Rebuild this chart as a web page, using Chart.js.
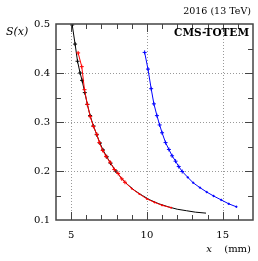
<!DOCTYPE html>
<html>
<head>
<meta charset="utf-8">
<script src="https://cdn.jsdelivr.net/npm/chart.js@4"></script>
<style>
  html, body { margin: 0; padding: 0; background: #fff; }
  #wrap { width: 258px; height: 261px; }
</style>
</head>
<body>
<div id="wrap"><canvas id="chart" width="258" height="261"></canvas></div>
<script>
// values
const blackX = [5.07, 5.26, 5.42, 5.59, 5.72, 5.90, 6.07, 6.25, 6.47, 6.69, 6.90, 7.10, 7.35, 7.60, 7.95, 8.30, 8.70, 9.2, 9.7, 10.2, 10.8, 11.4, 12.0, 12.6, 13.2, 13.9];
const blackY = [0.498, 0.459, 0.424, 0.400, 0.385, 0.360, 0.336, 0.313, 0.292, 0.274, 0.257, 0.243, 0.229, 0.216, 0.200, 0.186, 0.173, 0.160, 0.150, 0.141, 0.133, 0.127, 0.122, 0.119, 0.116, 0.114];

const redX = [5.46, 5.70, 5.88, 6.07, 6.26, 6.47, 6.69, 6.86, 7.08, 7.30, 7.57, 7.85, 8.10, 8.34, 8.55, 9.0, 9.5, 10.0, 10.5, 11.0, 11.6];
const redY = [0.441, 0.413, 0.366, 0.336, 0.311, 0.291, 0.275, 0.258, 0.242, 0.230, 0.218, 0.203, 0.195, 0.184, 0.177, 0.164, 0.153, 0.143, 0.136, 0.130, 0.125];

const blueX = [9.85, 10.07, 10.28, 10.46, 10.66, 10.84, 11.0, 11.23, 11.45, 11.66, 11.89, 12.1, 12.33, 12.7, 13.05, 13.5, 13.95, 14.4, 14.9, 15.4, 15.9];
const blueY = [0.442, 0.408, 0.368, 0.337, 0.313, 0.294, 0.278, 0.258, 0.244, 0.231, 0.220, 0.209, 0.199, 0.187, 0.176, 0.166, 0.157, 0.149, 0.141, 0.133, 0.127];

const xTicks = [5, 10, 15];
const yTicks = [0.1, 0.2, 0.3, 0.4, 0.5];

const pts = (xs, ys) => xs.map((x, i) => ({ x: x, y: ys[i] }));
const serif = 'DejaVu Serif';

// frame, dotted grid, inward ticks and the labels
const framePlugin = {
    id: 'frame',
    beforeDatasetsDraw(chart) {
        const { ctx, chartArea: a, scales: { x, y } } = chart;
        ctx.save();
        ctx.strokeStyle = '#999';
        ctx.lineWidth = 1;
        ctx.setLineDash([1, 2]);
        [5, 10, 15].forEach((v) => {
            const px = Math.round(x.getPixelForValue(v)) + 0.5;
            ctx.beginPath(); ctx.moveTo(px, a.top); ctx.lineTo(px, a.bottom); ctx.stroke();
        });
        [0.2, 0.3, 0.4].forEach((v) => {
            const py = Math.round(y.getPixelForValue(v)) + 0.5;
            ctx.beginPath(); ctx.moveTo(a.left, py); ctx.lineTo(a.right, py); ctx.stroke();
        });
        ctx.restore();
    },
    afterDatasetsDraw(chart) {
        const { ctx, chartArea: a, scales: { x, y } } = chart;
        ctx.save();
        ctx.strokeStyle = '#444';
        ctx.lineWidth = 1;
        for (let v = 5; v <= 16; v++) {
            const px = Math.round(x.getPixelForValue(v)) + 0.5;
            const len = v % 5 === 0 ? 8 : 5;
            ctx.beginPath();
            ctx.moveTo(px, a.bottom); ctx.lineTo(px, a.bottom - len);
            ctx.moveTo(px, a.top); ctx.lineTo(px, a.top + len);
            ctx.stroke();
        }
        for (let k = 3; k <= 9; k++) {
            const v = k * 0.05;
            const py = Math.round(y.getPixelForValue(v)) + 0.5;
            const len = k % 2 === 0 ? 8 : 5;
            ctx.beginPath();
            ctx.moveTo(a.left, py); ctx.lineTo(a.left + len, py);
            ctx.moveTo(a.right, py); ctx.lineTo(a.right - len, py);
            ctx.stroke();
        }
        ctx.lineWidth = 1.5;
        ctx.strokeRect(a.left, a.top, a.right - a.left, a.bottom - a.top);

        ctx.fillStyle = '#000';
        ctx.textBaseline = 'middle';
        ctx.textAlign = 'right';
        ctx.font = '9.5px ' + serif;
        ctx.fillText('2016 (13 TeV)', 251, 12);
        ctx.font = 'bold 10.5px ' + serif;
        ctx.fillText('CMS-TOTEM', 249, 33);
        ctx.font = '10px ' + serif;
        ctx.fillText('(mm)', 251, 249);
        ctx.font = 'italic 10px ' + serif;
        ctx.fillText('x', 212, 249);
        ctx.textAlign = 'left';
        ctx.font = 'italic 11px ' + serif;
        ctx.fillText('S(x)', 6, 32);
        ctx.restore();
    }
};

const line = (label, data, color, radius) => ({
    label: label,
    data: data,
    showLine: true,
    borderColor: color,
    backgroundColor: color,
    borderWidth: 1,
    pointStyle: 'cross',
    pointRadius: radius,
    pointBorderWidth: 1,
    tension: 0
});

// first dataset is drawn on top: red over black, as in the picture
new Chart(document.getElementById('chart'), {
    type: 'scatter',
    data: {
        datasets: [
            line('red', pts(redX, redY), '#ff0000', redX.map((v) => (v < 9 ? 2 : 1))),
            line('blue', pts(blueX, blueY), '#0000ff', blueX.map((v) => (v < 12.5 ? 2 : 1.2))),
            line('black', pts(blackX, blackY), '#000', blackX.map((v) => (v < 8 ? 2 : 0)))
        ]
    },
    plugins: [framePlugin],
    options: {
        responsive: false,
        animation: false,
        layout: { padding: { top: 24, right: 5, left: 0, bottom: 0 } },
        plugins: { legend: { display: false }, tooltip: { enabled: false } },
        scales: {
            x: {
                type: 'linear', min: 4, max: 17,
                afterBuildTicks: (s) => { s.ticks = xTicks.map((v) => ({ value: v })); },
                afterFit: (s) => { s.height = 41; },
                grid: { display: false, drawTicks: false },
                border: { display: false },
                ticks: { color: '#000', padding: 9, font: { family: serif, size: 10 } }
            },
            y: {
                type: 'linear', min: 0.1, max: 0.5,
                afterBuildTicks: (s) => { s.ticks = yTicks.map((v) => ({ value: v })); },
                afterFit: (s) => { s.width = 56; },
                grid: { display: false, drawTicks: false },
                border: { display: false },
                ticks: { color: '#000', padding: 6, font: { family: serif, size: 10 }, callback: (v) => v.toFixed(1) }
            }
        }
    }
});
</script>
</body>
</html>
